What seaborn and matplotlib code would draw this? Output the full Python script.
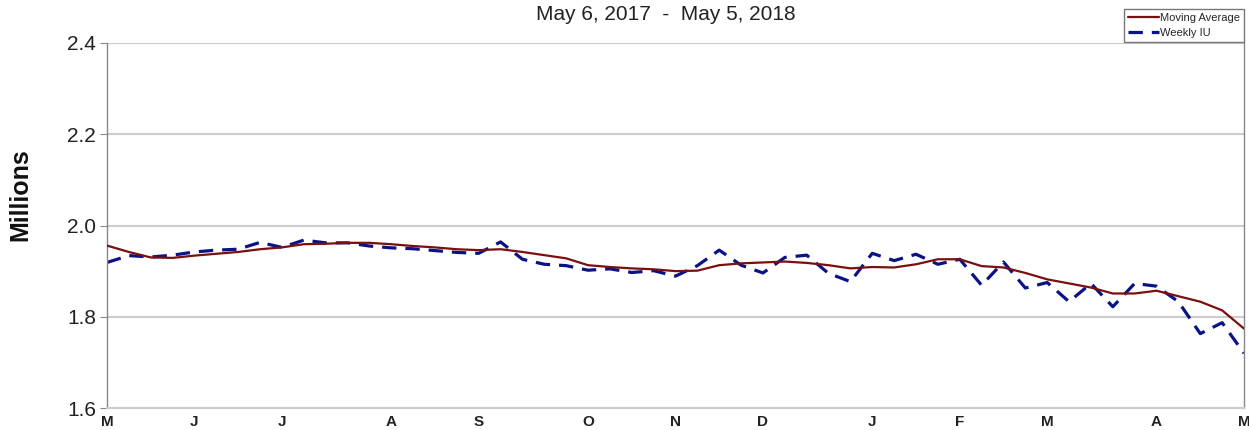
import pandas as pd
import matplotlib.pyplot as plt
import seaborn as sns
import numpy as np

# weekly data, May 6, 2017 - May 5, 2018 (millions)
moving_avg = [1.956, 1.942, 1.930, 1.929, 1.934, 1.938, 1.942, 1.948, 1.952, 1.959,
              1.960, 1.962, 1.962, 1.959, 1.955, 1.952, 1.948, 1.946, 1.948, 1.942,
              1.935, 1.928, 1.913, 1.909, 1.906, 1.904, 1.900, 1.901, 1.913, 1.917,
              1.919, 1.921, 1.918, 1.913, 1.906, 1.909, 1.908, 1.915, 1.926, 1.926,
              1.911, 1.908, 1.896, 1.882, 1.873, 1.864, 1.851, 1.851, 1.857, 1.845,
              1.833, 1.814, 1.774]
weekly_iu = [1.919, 1.934, 1.931, 1.935, 1.942, 1.946, 1.948, 1.963, 1.952, 1.968,
             1.962, 1.962, 1.955, 1.951, 1.949, 1.945, 1.941, 1.939, 1.964, 1.926,
             1.915, 1.912, 1.902, 1.905, 1.897, 1.901, 1.889, 1.912, 1.946, 1.913,
             1.896, 1.930, 1.935, 1.895, 1.877, 1.939, 1.923, 1.937, 1.915, 1.926,
             1.869, 1.920, 1.863, 1.875, 1.833, 1.873, 1.822, 1.873, 1.867, 1.833,
             1.763, 1.787, 1.720]
month_labels = ['M', 'J', 'J', 'A', 'S', 'O', 'N', 'D', 'J', 'F', 'M', 'A', 'M']
y_ticks = [1.6, 1.8, 2.0, 2.2, 2.4]

weeks = pd.date_range('2017-05-06', periods=len(weekly_iu), freq='7D')
df = pd.DataFrame({'week': weeks, 'ma': moving_avg, 'iu': weekly_iu})

sns.set_style("white")
plt.rcParams['font.family'] = ['Liberation Sans', 'DejaVu Sans']

fig = plt.figure(figsize=(12.49, 4.30), dpi=100)
ax = fig.add_axes([107 / 1249, 1 - 408 / 430, 1137 / 1249, 365 / 430])

sns.lineplot(data=df, x='week', y='ma', ax=ax, color='#7a0f0f', linewidth=1.6,
             label='Moving Average', zorder=3)
sns.lineplot(data=df, x='week', y='iu', ax=ax, color='#0a1288', linewidth=2.3,
             linestyle=(0, (4.5, 2.8)), label='Weekly IU', zorder=2)

ax.set_ylim(1.6, 2.4)
ax.set_xlim(weeks[0], weeks[-1])
ax.set_yticks(y_ticks)
ax.set_yticklabels([f'{v:.1f}' for v in y_ticks], fontsize=15, color='#222222')

# a tick every week, letter label at first week of each month
first_weeks = [w for w in weeks if w.day <= 7]
labels = []
j = 0
for w in weeks:
    if j < len(first_weeks) and w == first_weeks[j]:
        labels.append(month_labels[j])
        j += 1
    else:
        labels.append('')
ax.set_xticks(weeks)
ax.set_xticklabels(labels, fontsize=11, fontweight='bold', color='#222222')
ax.tick_params(axis='x', length=4, width=0.8, color='#888888', pad=1)
ax.tick_params(axis='y', length=5, width=0.8, color='#888888', pad=3, left=True)

ax.grid(axis='y', color='#cccccc', linewidth=1.5)
ax.grid(axis='x', visible=False)
for s in ['left', 'right']:
    ax.spines[s].set_color('#888888')
    ax.spines[s].set_linewidth(1.0)
ax.spines['top'].set_visible(False)
ax.spines['bottom'].set_color('#cccccc')
ax.spines['bottom'].set_linewidth(1.5)

ax.set_xlabel('')
ax.set_ylabel('Millions', fontsize=18, fontweight='bold', color='#111111')
ax.yaxis.set_label_coords(-0.066, 0.584)

fig.text(666 / 1249, 1 - 15 / 430, 'May 6, 2017  -  May 5, 2018', fontsize=15,
         ha='center', va='center', color='#222222')

leg = ax.legend(loc='lower right', bbox_to_anchor=(1.0, 1.003), borderaxespad=0,
                fontsize=8, handlelength=2.8, handletextpad=0.1, labelspacing=0.45,
                borderpad=0.35, frameon=True, fancybox=False)
leg.get_frame().set_edgecolor('#555555')
leg.get_frame().set_linewidth(1.0)

fig.savefig('out.png', dpi=100)
